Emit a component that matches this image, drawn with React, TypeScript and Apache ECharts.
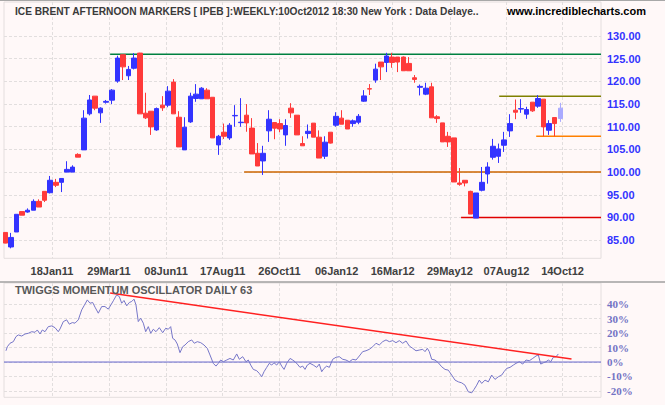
import React, { useEffect, useRef } from "react";
import * as echarts from "echarts";

// ---- x axis (weeks since first bar) ----
const weekTickPositions = [8.33, 18.5, 28.67, 38.78, 48.9, 59.1, 69.1, 79.3, 89.4, 99.4];
const weekTickLabels = ["18Jan11", "29Mar11", "08Jun11", "17Aug11", "26Oct11", "06Jan12", "16Mar12", "29May12", "07Aug12", "14Oct12"];
const weekMin = -0.232;
const weekMax = 106.26;

// ---- price axis ----
const priceTicks = [85, 90, 95, 100, 105, 110, 115, 120, 125, 130];
const priceMin = 81.0;
const priceMax = 137.5;

// ---- oscillator axis ----
const oscTicks = [-20, -10, 0, 10, 20, 30, 40];
const oscMin = -24.4;
const oscMax = 54.7;

// ---- weekly candles (IPEB) ----
const opens = [
  86.7, 83.5, 86.8, 91.3, 91.2, 91.6, 93.55, 95.76, 95.46, 97.75,
  97.75, 100.0, 100.0, 103.9, 104.9, 112.85, 116.75, 113.06, 115.4, 115.86,
  120.06, 125.88, 121.24, 122.9, 126.24, 112.99, 113.43, 109.3, 114.76, 114.76,
  119.84, 112.1, 104.9, 111.07, 116.23, 116.16, 118.07, 116.5, 106.0, 108.8,
  107.54, 112.4, 110.9, 112.55, 109.7, 104.15, 102.46, 109.1, 110.93, 110.7,
  108.2, 114.1, 112.55, 106.3, 108.5, 110.8, 107.7, 103.5, 108.8, 110.34,
  111.9, 111.44, 110.7, 111.0, 115.64, 118.4, 120.28, 124.26, 124.18, 125.36,
  125.36, 125.36, 123.96, 120.8, 118.7, 117.19, 118.8, 112.2, 110.85, 107.9,
  107.54, 97.6, 98.2, 95.76, 89.87, 96.0, 99.59, 103.27, 103.49, 105.92,
  109.09, 113.65, 113.9, 112.77, 115.42, 114.54, 116.08, 109.23, 112.03, 111.81,
];
const closes = [
  84.35, 85.6, 90.7, 90.5, 91.6, 93.55, 92.3, 93.8, 98.2, 97.1,
  98.6, 100.6, 101.1, 103.3, 111.9, 115.9, 114.1, 114.1, 115.6, 118.07,
  125.14, 123.2, 122.64, 125.14, 112.84, 111.96, 109.97, 114.0, 114.17, 117.85,
  112.84, 105.55, 109.9, 116.75, 117.19, 118.5, 116.16, 107.54, 107.9, 107.9,
  110.34, 112.5, 111.0, 110.85, 104.0, 101.35, 104.15, 111.66, 109.68, 109.5,
  110.27, 113.06, 108.2, 105.8, 109.0, 107.7, 103.1, 106.6, 106.4, 112.3,
  110.56, 109.5, 111.3, 112.3, 116.8, 118.3, 122.7, 123.2, 125.6, 124.18,
  124.26, 122.34, 122.34, 120.43, 118.9, 118.5, 111.96, 111.8, 106.66, 106.66,
  97.82, 97.3, 97.6, 90.75, 95.4, 97.75, 101.13, 105.7, 105.11, 107.1,
  110.7, 113.2, 114.0, 113.8, 113.5, 116.23, 109.97, 110.7, 110.7, 114.1,
];
const lows = [
  84.3, 83.2, 86.8, 90.5, 91.05, 91.6, 92.3, 93.4, 95.3, 96.7,
  95.6, 100.0, 100.0, 103.3, 104.9, 112.5, 113.65, 110.85, 115.1, 115.0,
  119.7, 120.3, 120.3, 122.64, 112.84, 111.7, 108.2, 109.1, 113.5, 114.3,
  112.84, 105.55, 104.9, 110.85, 115.5, 116.16, 116.16, 107.54, 103.8, 107.3,
  107.1, 110.0, 110.0, 108.9, 104.0, 101.35, 99.37, 106.66, 107.25, 108.8,
  105.8, 111.96, 108.2, 105.8, 107.4, 107.7, 103.1, 102.9, 106.3, 110.0,
  110.56, 109.5, 110.0, 110.56, 115.5, 117.0, 119.7, 120.3, 122.05, 123.0,
  122.05, 122.34, 122.34, 119.7, 116.9, 116.97, 111.96, 110.85, 106.66, 105.55,
  97.82, 97.0, 96.86, 90.75, 89.87, 95.76, 97.45, 102.75, 102.02, 104.45,
  107.76, 111.66, 113.06, 111.74, 113.28, 114.17, 107.9, 108.2, 107.9, 111.07,
];
const highs = [
  86.7, 86.6, 90.7, 91.3, 92.0, 94.0, 94.0, 95.76, 99.15, 98.5,
  98.6, 102.4, 101.5, 104.15, 113.65, 117.0, 116.75, 114.3, 115.9, 118.3,
  125.66, 125.88, 123.4, 126.24, 126.3, 117.5, 113.43, 114.24, 116.75, 118.95,
  120.5, 113.43, 112.1, 117.5, 119.4, 118.73, 118.5, 116.5, 108.2, 110.7,
  110.8, 114.76, 116.3, 115.0, 111.9, 106.4, 105.8, 113.65, 110.93, 111.66,
  111.66, 115.2, 112.55, 107.9, 110.5, 110.8, 109.2, 107.9, 108.8, 113.2,
  113.65, 111.44, 111.6, 112.8, 118.07, 119.4, 123.9, 124.26, 126.3, 126.3,
  125.36, 125.5, 125.36, 121.4, 119.3, 119.7, 119.7, 112.55, 110.85, 108.87,
  107.54, 100.9, 98.2, 95.9, 95.4, 101.13, 102.17, 107.32, 106.29, 108.87,
  112.77, 116.0, 116.08, 114.4, 115.42, 116.97, 116.08, 111.44, 112.03, 115.27,
];

// ---- support / resistance lines: level and starting week ----
const lineLevels = [126.0, 100.0, 90.0, 116.7, 107.9];
const lineStartWeeks = [18.7, 42.6, 81.3, 88.1, 94.7];

// ---- Twiggs Momentum Oscillator (daily, 63) : [week, percent] ----
const oscSeries = [
  [0.12, 7.8], [0.36, 10.6], [0.84, 13], [1.43, 14.1], [1.91, 17.6], [2.32, 18.75], [2.93, 18], [3.51, 19.4],
  [4.1, 19.9], [4.71, 21], [5.3, 20.6], [5.71, 22.2], [6.19, 19.4], [6.6, 22.2], [7.08, 21], [7.67, 24.5],
  [8.28, 25], [8.87, 23.8], [9.45, 21], [9.76, 22.9], [10.35, 28], [10.95, 29.2], [11.42, 26.2], [11.95, 27.3],
  [12.43, 26.9], [13.02, 29.2], [13.63, 36.1], [14.04, 38.9], [14.63, 43], [15.11, 40.7], [15.59, 41.2], [16.0, 38],
  [16.59, 33.8], [17.2, 38.4], [17.78, 38.4], [18.37, 36.6], [18.85, 39.6], [19.27, 42.4], [19.87, 46.5], [20.34, 45.3],
  [20.76, 40.7], [21.17, 42.6], [21.66, 38.9], [22.12, 41.2], [22.55, 41.9], [22.96, 43.5], [23.31, 39.6], [23.72, 28],
  [24.15, 30.3], [24.62, 26.9], [25.04, 21], [25.51, 24.5], [25.94, 19.9], [26.4, 22.7], [26.88, 21], [27.47, 23.8],
  [28.08, 20.3], [28.61, 23.4], [29.08, 22.7], [29.5, 24.5], [29.86, 16.4], [30.27, 15.3], [30.68, 12.5], [31.16, 6.5],
  [31.64, 10.6], [32.06, 11.8], [32.64, 14.1], [33.25, 15.3], [33.71, 13], [34.25, 14.1], [34.86, 13.4], [35.44, 11.8],
  [36.03, 9.5], [36.51, 4.9], [37.1, -0.9], [37.58, -2.8], [37.99, -0.9], [38.42, 1.4], [38.89, 0.2], [39.49, 1.4],
  [40.08, 2.5], [40.67, 1.4], [41.28, 5.6], [41.74, 1.9], [42.35, 3.7], [42.94, 0.2], [43.35, 1.4], [43.78, -2.1],
  [44.24, -5.1], [44.85, -6], [45.31, -7.9], [45.74, -10.2], [46.15, -6.7], [46.63, -3.7], [47.09, -0.9], [47.52, -2.1],
  [47.93, -0.5], [48.41, -2.1], [48.88, 0.2], [49.3, -2.8], [49.72, -5.1], [50.2, -0.9], [50.79, 2.5], [51.27, 1.4],
  [51.68, 0.2], [52.09, -1.4], [52.57, -3.7], [53.05, -2.8], [53.46, -5.1], [53.87, -2.1], [54.35, -0.9], [54.94, -2.1],
  [55.55, -3.7], [56.01, -1.4], [56.44, -6.7], [56.85, -4.4], [57.33, -2.8], [57.8, -3.7], [58.4, 1.9], [58.99, 3.3],
  [59.58, 3.7], [60.19, 1.9], [60.77, 1.4], [61.36, 0.2], [61.97, 1.9], [62.56, 1.4], [63.15, 4.2], [63.75, 7.2],
  [64.34, 7.8], [64.93, 8.8], [65.54, 10.6], [66.13, 13], [66.71, 11.8], [67.32, 14.1], [67.91, 15.3], [68.5, 14.1],
  [69.11, 14.8], [69.69, 13.4], [70.28, 14.8], [70.89, 13], [71.48, 14.6], [72.07, 11.1], [72.67, 9.5], [73.26, 7.8],
  [73.85, 8.3], [74.46, 8.8], [74.87, 7.2], [75.28, 9.5], [75.63, 7.2], [76.06, 1.9], [76.65, 1.4], [77.24, -0.5],
  [77.85, -3.3], [78.44, -5.1], [79.02, -5.6], [79.63, -9], [80.22, -12.5], [80.81, -13.7], [81.41, -14.4], [82.0, -16],
  [82.59, -20.6], [83.2, -21.3], [83.61, -19], [84.09, -16], [84.55, -12.5], [84.98, -14.8], [85.57, -12.5], [86.16, -13.7],
  [86.76, -9], [87.35, -12], [87.94, -10.2], [88.55, -9], [88.96, -6.7], [89.44, -4.4], [90.03, -3.7], [90.62, -2.1],
  [91.1, -0.9], [91.69, 0.2], [92.3, -1.4], [92.88, 1.4], [93.47, 0.9], [94.08, 2.5], [94.67, 4.2], [95.08, 4.9],
  [95.51, -1.4], [95.97, -0.5], [96.45, 0.2], [96.86, 1.4], [97.29, 0.2], [97.75, 3.3], [98.24, 3.7], [98.65, 5.6],
];

// ---- oscillator trendline [week, percent] ----
const oscTrend = [[18.7, 47.7], [101.0, 2.1]];

const titleText = "ICE BRENT AFTERNOON MARKERS [ IPEB ]:WEEKLY:10Oct2012 18:30 New York : Data Delaye..";
const siteText = "www.incrediblecharts.com";
const oscTitle = "TWIGGS MOMENTUM OSCILLATOR DAILY 63";

export default function App() {
  const ref = useRef<HTMLDivElement>(null);

  useEffect(() => {
    if (!ref.current) return;
    const chart = echarts.init(ref.current, undefined, { renderer: "svg" });

    const UP = "#3333ff";
    const DOWN = "#ff3a3a";
    const BG = "#fff8f8";
    const GRIDLINE = { color: "#e2dede", type: [3, 2] as any, width: 1 };
    const lineColors = ["#008040", "#cc6600", "#e00000", "#808000", "#ff8000"];

    const candleData = opens.map((o, i) => {
      const item: any = { value: [i, o, closes[i], lows[i], highs[i]] };
      if (i === opens.length - 1) {
        item.itemStyle = { color: "#aaaaff", borderColor: "#aaaaff", color0: "#aaaaff", borderColor0: "#aaaaff" };
      }
      return item;
    });

    const xAxisCommon = (gridIndex: number, showLabels: boolean) => ({
      type: "value",
      gridIndex,
      min: weekMin,
      max: weekMax,
      axisLine: { show: false },
      axisTick: { show: false, customValues: weekTickPositions },
      axisLabel: {
        show: showLabels,
        customValues: weekTickPositions,
        formatter: (v: number) => {
          let best = 0;
          weekTickPositions.forEach((p, k) => {
            if (Math.abs(p - v) < Math.abs(weekTickPositions[best] - v)) best = k;
          });
          return weekTickLabels[best];
        },
        color: "#404040",
        fontFamily: "Liberation Sans, Arial, sans-serif",
        fontWeight: "bold",
        fontSize: 11,
        margin: 7,
      },
      splitLine: { show: true, lineStyle: GRIDLINE },
    });

    const option: any = {
      animation: false,
      backgroundColor: BG,
      grid: [
        { left: 4, right: 64, top: 2, bottom: 146.7, show: true, backgroundColor: BG, borderColor: "#e4dede", borderWidth: 1 },
        { left: 4, right: 64, top: 283, bottom: 7.7, show: true, backgroundColor: BG, borderColor: "#e4dede", borderWidth: 1 },
      ],
      xAxis: [xAxisCommon(0, true), xAxisCommon(1, false)],
      yAxis: [
        {
          type: "value",
          gridIndex: 0,
          position: "right",
          min: priceMin,
          max: priceMax,
          axisLine: { show: false },
          axisTick: { show: false, customValues: priceTicks },
          axisLabel: {
            customValues: priceTicks,
            formatter: (v: number) => v.toFixed(2),
            color: "#3333ff",
            fontFamily: "Liberation Sans, Arial, sans-serif",
            fontWeight: "bold",
            fontSize: 11,
            margin: 6,
          },
          splitLine: { show: true, lineStyle: GRIDLINE },
        },
        {
          type: "value",
          gridIndex: 1,
          position: "right",
          min: oscMin,
          max: oscMax,
          axisLine: { show: false },
          axisTick: { show: false, customValues: oscTicks },
          axisLabel: {
            customValues: oscTicks,
            formatter: (v: number) => `${v}%`,
            color: "#7373c4",
            fontFamily: "Liberation Serif, Times New Roman, serif",
            fontWeight: "bold",
            fontSize: 11,
            margin: 6,
          },
          splitLine: { show: true, lineStyle: GRIDLINE },
        },
      ],
      series: [
        ...lineLevels.map((lvl, k) => ({
          type: "line",
          xAxisIndex: 0,
          yAxisIndex: 0,
          data: [[lineStartWeeks[k], lvl], [weekMax, lvl]],
          symbol: "none",
          silent: true,
          lineStyle: { color: lineColors[k], width: 1.5 },
          z: 1,
        })),
        {
          type: "candlestick",
          xAxisIndex: 0,
          yAxisIndex: 0,
          data: candleData,
          encode: { x: 0, y: [1, 2, 3, 4] },
          barWidth: 5,
          itemStyle: { color: UP, color0: DOWN, borderColor: UP, borderColor0: DOWN, borderWidth: 1 },
          z: 3,
        },
        {
          type: "line",
          xAxisIndex: 1,
          yAxisIndex: 1,
          data: [[weekMin, 0], [weekMax, 0]],
          symbol: "none",
          silent: true,
          lineStyle: { color: "#6666cc", width: 1 },
        },
        {
          type: "line",
          xAxisIndex: 1,
          yAxisIndex: 1,
          data: oscSeries,
          symbol: "none",
          silent: true,
          lineStyle: { color: "#7676c8", width: 1 },
        },
        {
          type: "line",
          xAxisIndex: 1,
          yAxisIndex: 1,
          data: oscTrend,
          symbol: "none",
          silent: true,
          lineStyle: { color: "#ff2020", width: 1.5 },
        },
      ],
      graphic: [
        { type: "line", shape: { x1: 0, y1: 0.5, x2: 665, y2: 0.5 }, style: { stroke: "#a8a8a8", lineWidth: 1 }, z: 10 },
        { type: "line", shape: { x1: 0, y1: 282, x2: 665, y2: 282 }, style: { stroke: "#a0a0a0", lineWidth: 1.5 }, z: 10 },
        {
          type: "text",
          x: 15,
          y: 11,
          scaleX: 0.885,
          style: {
            text: titleText,
            fill: "#3a3a3a",
            font: "bold 11.5px 'Liberation Sans', Arial, sans-serif",
            textVerticalAlign: "middle",
          },
          z: 10,
        },
        {
          type: "text",
          x: 507,
          y: 11,
          style: {
            text: siteText,
            fill: "#000000",
            font: "bold 11px 'Liberation Sans', Arial, sans-serif",
            textVerticalAlign: "middle",
          },
          z: 10,
        },
        {
          type: "text",
          x: 15,
          y: 290,
          style: {
            text: oscTitle,
            fill: "#585858",
            font: "bold 11px 'Liberation Sans', Arial, sans-serif",
            textVerticalAlign: "middle",
          },
          z: 10,
        },
      ],
    };

    chart.setOption(option);
    return () => chart.dispose();
  }, []);

  return (
    <div
      ref={ref}
      style={{ position: "fixed", left: 0, top: 0, width: 665, height: 405 }}
    />
  );
}
